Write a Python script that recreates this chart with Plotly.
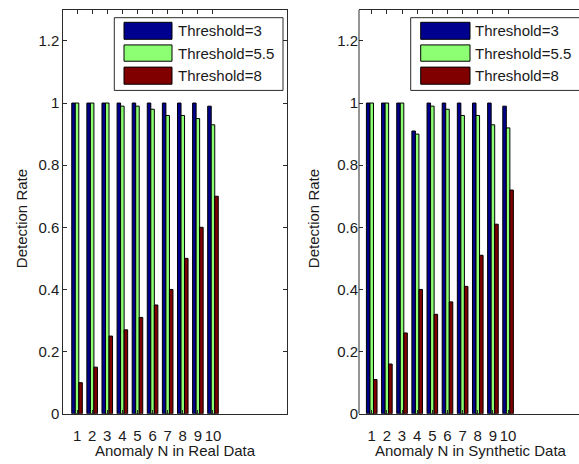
import plotly.graph_objects as go

# ---- data ----
categories = [1, 2, 3, 4, 5, 6, 7, 8, 9, 10]
series_names = ["Threshold=3", "Threshold=5.5", "Threshold=8"]

real_t3 = [1.00, 1.00, 1.00, 1.00, 1.00, 1.00, 1.00, 1.00, 1.00, 0.99]
real_t55 = [1.00, 1.00, 1.00, 0.99, 0.99, 0.98, 0.96, 0.96, 0.95, 0.93]
real_t8 = [0.10, 0.15, 0.25, 0.27, 0.31, 0.35, 0.40, 0.50, 0.60, 0.70]

syn_t3 = [1.00, 1.00, 1.00, 0.91, 1.00, 1.00, 1.00, 1.00, 1.00, 0.99]
syn_t55 = [1.00, 1.00, 1.00, 0.90, 0.99, 0.98, 0.96, 0.96, 0.93, 0.92]
syn_t8 = [0.11, 0.16, 0.26, 0.40, 0.32, 0.36, 0.41, 0.51, 0.61, 0.72]

y_tickvals = [0, 0.2, 0.4, 0.6, 0.8, 1.0, 1.2]
y_ticktext = ["0", "0.2", "0.4", "0.6", "0.8", "1", "1.2"]
x_titles = ["Anomaly N in Real Data", "Anomaly N in Synthetic Data"]
y_title = "Detection Rate"

colors = ["#00008F", "#8CFF73", "#800000"]

# ---- layout helpers (pixels -> paper) ----
W, H = 579, 464
FONT = "Liberation Sans, Arial, sans-serif"
FS = 15
TXT = "#1a1a1a"
AX = "#2a2a2a"


def px(x):
    return x / W


def py(y):
    return 1 - y / H


fig = go.Figure()
for xa, ya, vals in [("x", "y", [real_t3, real_t55, real_t8]),
                     ("x2", "y2", [syn_t3, syn_t55, syn_t8])]:
    for name, v, c in zip(series_names, vals, colors):
        fig.add_trace(go.Bar(
            x=categories, y=v, name=name, xaxis=xa, yaxis=ya,
            marker=dict(color=c, line=dict(color="black", width=1)),
            showlegend=False,
        ))

axis_common = dict(
    linecolor=AX, linewidth=1, ticks="inside", ticklen=4,
    tickcolor=AX, showgrid=False, zeroline=False,
    tickfont=dict(family=FONT, size=FS, color=TXT),
)

fig.update_layout(
    width=W, height=H, margin=dict(l=0, r=0, t=0, b=0),
    paper_bgcolor="white", plot_bgcolor="white",
    barmode="group", bargap=0.3, bargroupgap=0,
    xaxis=dict(domain=[px(63.3), px(287)], range=[0.09, 14.9], anchor="y",
               tickvals=categories, tickangle=0, mirror="ticks",
               showline=True, ticklabelstandoff=8, **axis_common),
    yaxis=dict(domain=[py(421), py(10)], range=[0, 1.3], anchor="x",
               tickvals=y_tickvals, ticktext=y_ticktext, mirror="ticks",
               showline=True, **axis_common),
    xaxis2=dict(domain=[px(359), 1.0], range=[0.16, 14.68], anchor="y2",
                tickvals=categories, tickangle=0, mirror="ticks",
                showline=True, ticklabelstandoff=8, **axis_common),
    yaxis2=dict(domain=[py(421), py(10)], range=[0, 1.3], anchor="x2",
                tickvals=y_tickvals, ticktext=y_ticktext, mirror=False,
                showline=False, **axis_common),
)

shapes = [
    # left frame line of the right axes (its right side is cut off by the window)
    dict(type="line", xref="x2 domain", yref="y2 domain", x0=0, x1=0,
         y0=0, y1=1, line=dict(color=AX, width=1)),
    # the right axes continue past the window edge: hide any frame edge there
    dict(type="rect", xref="paper", yref="paper", x0=px(577), x1=px(582),
         y0=py(420), y1=py(11), line=dict(width=0), fillcolor="white",
         layer="above"),
]
annotations = []
# axis titles
for cx, t in [((63.3 + 287) / 2, x_titles[0]), ((359 + 583) / 2, x_titles[1])]:
    annotations.append(dict(x=px(cx), y=py(458), xref="paper", yref="paper",
                            text=t, showarrow=False, xanchor="center",
                            yanchor="middle",
                            font=dict(family=FONT, size=FS, color=TXT)))
for cx in [21, 313]:
    annotations.append(dict(x=px(cx), y=py(223), xref="paper", yref="paper",
                            text=y_title, showarrow=False, textangle=-90,
                            xanchor="center", yanchor="middle",
                            font=dict(family=FONT, size=FS, color=TXT)))

# legends (drawn as boxes)
rows = [(22.7, 40), (45.7, 62.3), (68.3, 85.7)]
for bx0, bx1, sx0, sx1, tx in [(114.3, 283, 124, 172, 176),
                               (410.7, 582, 420.7, 470, 473)]:
    shapes.append(dict(type="rect", xref="paper", yref="paper",
                       x0=px(bx0), x1=px(bx1), y0=py(92), y1=py(18),
                       line=dict(color=AX, width=1), fillcolor="white"))
    for (ry0, ry1), c, name in zip(rows, colors, series_names):
        shapes.append(dict(type="rect", xref="paper", yref="paper",
                           x0=px(sx0), x1=px(sx1), y0=py(ry1), y1=py(ry0),
                           line=dict(color="black", width=1), fillcolor=c))
        annotations.append(dict(x=px(tx), y=py((ry0 + ry1) / 2), xref="paper",
                                yref="paper", text=name, showarrow=False,
                                xanchor="left", yanchor="middle",
                                font=dict(family=FONT, size=FS, color=TXT)))

fig.update_layout(shapes=shapes, annotations=annotations)
fig.write_html("out.html")
